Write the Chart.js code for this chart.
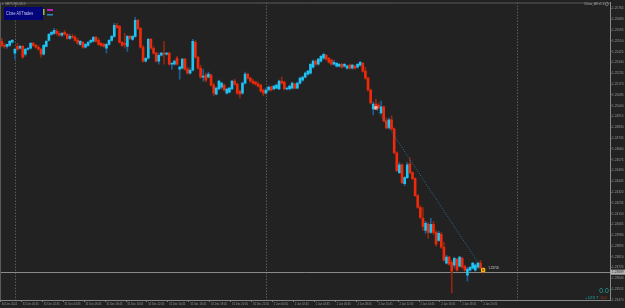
<!DOCTYPE html>
<html><head><meta charset="utf-8">
<script src="https://cdn.jsdelivr.net/npm/chart.js@4.4.1/dist/chart.umd.min.js"></script>
<style>html,body{margin:0;padding:0;background:#232323;overflow:hidden}canvas{display:block}</style>
</head><body>
<canvas id="c" width="625" height="308"></canvas>
<script>
// ---------- DATA ----------
const symbolLabel = 'GBPUSD,M15';
const indicatorLabel = 'Close_All v1.1';
const xTickLabels = ['30 Dec 2024','31 Dec 00:45','31 Dec 02:45','31 Dec 04:45','31 Dec 06:45','31 Dec 08:45','31 Dec 10:45','31 Dec 12:45','31 Dec 14:45','31 Dec 16:45','31 Dec 18:45','31 Dec 20:45','31 Dec 22:45','2 Jan 00:45','2 Jan 02:45','2 Jan 04:45','2 Jan 06:45','2 Jan 08:45','2 Jan 10:45','2 Jan 12:45','2 Jan 14:45','2 Jan 16:45','2 Jan 18:45','2 Jan 20:45'];
const yTickValues = [1.23470,1.23555,1.23640,1.23725,1.23810,1.23895,1.23980,1.24065,1.24150,1.24235,1.24320,1.24405,1.24490,1.24575,1.24660,1.24745,1.24830,1.24915,1.25000,1.25085,1.25170,1.25255,1.25340,1.25425,1.25510,1.25595,1.25680,1.25765];

const openP = [
1.25507,1.25475,1.25467,1.25475,1.25499,1.25413,1.25467,1.25452,1.25467,1.25405,
1.25444,1.25452,1.25491,1.25475,1.25460,1.25444,1.25405,1.25467,1.25514,1.25561,
1.25569,1.25585,1.25569,1.25554,1.25577,1.25561,1.25530,1.25546,1.25538,1.25514,
1.25483,1.25499,1.25460,1.25475,1.25499,1.25507,1.25538,1.25514,1.25491,1.25483,
1.25452,1.25483,1.25514,1.25546,1.25632,1.25624,1.25499,1.25491,1.25467,1.25546,
1.25522,1.25546,1.25671,1.25608,1.25460,1.25350,1.25373,1.25522,1.25452,1.25413,
1.25350,1.25397,1.25413,1.25405,1.25413,1.25326,1.25326,1.25373,1.25287,1.25295,
1.25366,1.25287,1.25256,1.25279,1.25499,1.25381,1.25295,1.25225,1.25240,1.25225,
1.25240,1.25162,1.25091,1.25131,1.25146,1.25162,1.25099,1.25107,1.25131,1.25193,
1.25170,1.25115,1.25099,1.25178,1.25248,1.25217,1.25193,1.25185,1.25170,1.25162,
1.25123,1.25099,1.25123,1.25146,1.25131,1.25138,1.25131,1.25193,1.25185,1.25131,
1.25131,1.25138,1.25170,1.25138,1.25178,1.25201,1.25225,1.25248,1.25256,1.25303,
1.25350,1.25326,1.25350,1.25373,1.25397,1.25373,1.25358,1.25326,1.25311,1.25311,
1.25326,1.25311,1.25295,1.25319,1.25295,1.25311,1.25303,1.25319,1.25334,1.25272,
1.25217,1.25123,1.24974,1.25013,1.25005,1.24943,1.24990,1.24880,1.24825,1.24888,
1.24817,1.24629,1.24473,1.24535,1.24386,1.24433,1.24543,1.24473,1.24426,1.24292,
1.24198,1.24112,1.24018,1.24065,1.24003,1.24065,1.24003,1.23940,1.23987,1.23885,
1.23760,1.23807,1.23767,1.23744,1.23791,1.23736,1.23799,1.23736,1.23666,1.23705,
1.23721,1.23705,1.23728,1.23760,1.23721];
const highP = [
1.25530,1.25491,1.25483,1.25514,1.25522,1.25452,1.25491,1.25475,1.25475,1.25452,
1.25460,1.25499,1.25499,1.25483,1.25475,1.25452,1.25483,1.25514,1.25569,1.25585,
1.25608,1.25601,1.25585,1.25577,1.25593,1.25569,1.25561,1.25561,1.25554,1.25530,
1.25514,1.25507,1.25491,1.25507,1.25522,1.25546,1.25546,1.25530,1.25499,1.25491,
1.25491,1.25522,1.25554,1.25648,1.25648,1.25632,1.25507,1.25569,1.25554,1.25554,
1.25554,1.25695,1.25679,1.25616,1.25475,1.25381,1.25530,1.25530,1.25467,1.25420,
1.25413,1.25420,1.25507,1.25420,1.25420,1.25342,1.25358,1.25389,1.25311,1.25373,
1.25373,1.25303,1.25295,1.25522,1.25514,1.25389,1.25319,1.25287,1.25256,1.25264,
1.25248,1.25178,1.25146,1.25201,1.25185,1.25170,1.25138,1.25146,1.25201,1.25209,
1.25178,1.25123,1.25185,1.25264,1.25256,1.25225,1.25209,1.25193,1.25185,1.25170,
1.25131,1.25138,1.25154,1.25154,1.25162,1.25170,1.25201,1.25225,1.25193,1.25146,
1.25162,1.25185,1.25178,1.25185,1.25225,1.25232,1.25264,1.25279,1.25334,1.25358,
1.25358,1.25373,1.25397,1.25413,1.25405,1.25381,1.25366,1.25358,1.25342,1.25334,
1.25334,1.25334,1.25319,1.25326,1.25326,1.25319,1.25334,1.25350,1.25342,1.25303,
1.25225,1.25131,1.25029,1.25052,1.25021,1.25037,1.24997,1.24903,1.24903,1.24919,
1.24825,1.24637,1.24551,1.24543,1.24441,1.24551,1.24590,1.24480,1.24433,1.24300,
1.24214,1.24198,1.24089,1.24081,1.24112,1.24089,1.24018,1.24010,1.24003,1.23924,
1.23822,1.23814,1.23783,1.23807,1.23799,1.23814,1.23807,1.23744,1.23728,1.23736,
1.23767,1.23752,1.23767,1.23783,1.23728];
const lowP = [
1.25460,1.25452,1.25452,1.25467,1.25491,1.25366,1.25436,1.25444,1.25373,1.25389,
1.25436,1.25444,1.25467,1.25452,1.25436,1.25381,1.25397,1.25460,1.25507,1.25554,
1.25561,1.25554,1.25546,1.25546,1.25554,1.25522,1.25522,1.25530,1.25507,1.25483,
1.25475,1.25452,1.25452,1.25467,1.25491,1.25499,1.25499,1.25475,1.25467,1.25460,
1.25413,1.25475,1.25507,1.25538,1.25608,1.25491,1.25467,1.25452,1.25428,1.25522,
1.25514,1.25538,1.25601,1.25452,1.25342,1.25342,1.25366,1.25444,1.25405,1.25342,
1.25326,1.25389,1.25326,1.25397,1.25319,1.25287,1.25319,1.25319,1.25209,1.25287,
1.25279,1.25248,1.25248,1.25272,1.25373,1.25287,1.25217,1.25193,1.25185,1.25217,
1.25154,1.25076,1.25084,1.25123,1.25131,1.25115,1.25091,1.25099,1.25123,1.25162,
1.25091,1.25060,1.25091,1.25170,1.25209,1.25185,1.25170,1.25162,1.25146,1.25107,
1.25076,1.25091,1.25115,1.25115,1.25123,1.25131,1.25123,1.25170,1.25123,1.25123,
1.25123,1.25131,1.25131,1.25131,1.25170,1.25193,1.25217,1.25240,1.25248,1.25295,
1.25319,1.25319,1.25342,1.25366,1.25358,1.25334,1.25319,1.25319,1.25303,1.25303,
1.25295,1.25303,1.25287,1.25287,1.25287,1.25287,1.25295,1.25311,1.25264,1.25209,
1.25115,1.25013,1.24927,1.24974,1.24974,1.24935,1.24872,1.24817,1.24817,1.24809,
1.24621,1.24480,1.24465,1.24386,1.24371,1.24426,1.24465,1.24418,1.24285,1.24191,
1.24112,1.24018,1.23995,1.23956,1.23995,1.23987,1.23893,1.23932,1.23877,1.23775,
1.23752,1.23744,1.23525,1.23721,1.23697,1.23728,1.23721,1.23697,1.23619,1.23697,
1.23713,1.23697,1.23721,1.23713,1.23681];
const closeP = [
1.25475,1.25467,1.25483,1.25507,1.25514,1.25444,1.25444,1.25467,1.25381,1.25444,
1.25452,1.25491,1.25475,1.25460,1.25444,1.25405,1.25475,1.25507,1.25561,1.25577,
1.25593,1.25569,1.25554,1.25569,1.25561,1.25530,1.25546,1.25538,1.25514,1.25491,
1.25507,1.25460,1.25483,1.25499,1.25514,1.25538,1.25507,1.25483,1.25475,1.25467,
1.25483,1.25514,1.25546,1.25632,1.25616,1.25499,1.25475,1.25483,1.25546,1.25530,
1.25546,1.25671,1.25608,1.25460,1.25350,1.25373,1.25522,1.25452,1.25413,1.25350,
1.25397,1.25413,1.25405,1.25413,1.25326,1.25334,1.25350,1.25326,1.25303,1.25366,
1.25287,1.25256,1.25279,1.25507,1.25381,1.25295,1.25225,1.25232,1.25201,1.25248,
1.25162,1.25099,1.25138,1.25193,1.25178,1.25123,1.25131,1.25138,1.25193,1.25170,
1.25099,1.25091,1.25178,1.25248,1.25217,1.25193,1.25178,1.25170,1.25154,1.25115,
1.25099,1.25123,1.25146,1.25123,1.25154,1.25162,1.25193,1.25178,1.25131,1.25138,
1.25154,1.25178,1.25138,1.25178,1.25217,1.25225,1.25256,1.25272,1.25326,1.25350,
1.25326,1.25366,1.25389,1.25405,1.25366,1.25342,1.25326,1.25342,1.25334,1.25326,
1.25303,1.25326,1.25311,1.25295,1.25319,1.25295,1.25326,1.25342,1.25272,1.25217,
1.25123,1.25021,1.25013,1.24982,1.24982,1.24990,1.24880,1.24825,1.24888,1.24817,
1.24629,1.24488,1.24535,1.24394,1.24433,1.24535,1.24473,1.24426,1.24292,1.24198,
1.24120,1.24050,1.24073,1.24003,1.24065,1.24003,1.23909,1.23995,1.23885,1.23783,
1.23807,1.23752,1.23697,1.23799,1.23705,1.23807,1.23728,1.23705,1.23713,1.23728,
1.23760,1.23744,1.23760,1.23721,1.23689];

const tradeOpenIndex = 143, tradeOpenPrice = 1.24982;
const tradeCloseIndex = 184, tradeClosePrice = 1.23705;
const daySeparatorIndex = [5, 101, 197];
const slotCount = 233;           // candles + empty chart shift
const candlesPerTimeLabel = 8;
const profitText = '0.0', tradesText = '+129 T', lossText = '0.0';

// ---------- BUILD ----------
const BG = '#222222';
const FONT = '"Liberation Sans", Arial, sans-serif';
const labels = new Array(slotCount).fill('');
xTickLabels.forEach((t, k) => { labels[k * candlesPerTimeLabel] = t; });

const isUp = openP.map((o, i) => closeP[i] >= o);
const bodyData = openP.map((o, i) => [o, closeP[i]]);
const wickData = lowP.map((l, i) => [l, highP[i]]);
const tradeLine = new Array(slotCount).fill(null);
tradeLine[tradeOpenIndex] = tradeOpenPrice;
tradeLine[tradeCloseIndex] = tradeClosePrice;
const openMark = new Array(slotCount).fill(null); openMark[tradeOpenIndex] = tradeOpenPrice;
const closeMark = new Array(slotCount).fill(null); closeMark[tradeCloseIndex] = tradeClosePrice;
const lastClose = closeP[closeP.length - 1];

function txt(ctx, s, x, y, size, color, align, base, bold) {
  ctx.font = (bold ? 'bold ' : '') + size + 'px ' + FONT;
  ctx.fillStyle = color; ctx.textAlign = align || 'left'; ctx.textBaseline = base || 'middle';
  ctx.fillText(s, x, y);
}

const decor = {
  id: 'decor',
  beforeDraw(chart) {
    const c = chart.ctx; c.save(); c.fillStyle = BG; c.fillRect(0, 0, chart.width, chart.height); c.restore();
  },
  beforeDatasetsDraw(chart) {
    const c = chart.ctx, a = chart.chartArea, x = chart.scales.x, y = chart.scales.y;
    c.save();
    c.lineWidth = 1;
    c.strokeStyle = '#5c5c5c'; c.setLineDash([1.5, 1.5]);
    daySeparatorIndex.forEach(i => {
      const px = Math.round(x.getPixelForValue(i)) + 0.5;
      c.beginPath(); c.moveTo(px, a.top); c.lineTo(px, a.bottom); c.stroke();
    });
    c.setLineDash([]);
    const by = Math.round(y.getPixelForValue(lastClose)) + 0.5;
    c.strokeStyle = '#8a8a8a';
    c.beginPath(); c.moveTo(a.left, by); c.lineTo(a.right, by); c.stroke();
    c.strokeStyle = '#5a5a5a';
    c.beginPath(); c.moveTo(0.5, a.top + 0.5); c.lineTo(a.right, a.top + 0.5); c.moveTo(0.5, a.top); c.lineTo(0.5, a.bottom); c.stroke();
    c.restore();
  },
  afterDraw(chart) {
    const c = chart.ctx, a = chart.chartArea, x = chart.scales.x, y = chart.scales.y;
    c.save();
    txt(c, '\u25BE ' + symbolLabel, 2, 4.5, 3.2, '#9a9a9a');
    c.fillStyle = '#03037a'; c.fillRect(4, 7, 39, 13);
    c.font = '4.6px ' + FONT;
    const w = c.measureText('Close All Trades').width;
    c.save(); c.translate(6, 14); c.scale(27 / w, 1);
    txt(c, 'Close All Trades', 0, 0, 4.6, '#c8c8f0');
    c.restore();
    c.fillStyle = '#9cc21e'; c.fillRect(43, 9, 1.5, 6);
    c.fillStyle = '#c21cc2'; c.fillRect(47, 9, 6, 2);
    c.fillStyle = '#2a86c8'; c.fillRect(47, 14, 6, 1.5);
    txt(c, indicatorLabel, 604.5, 4, 3.2, '#a0a0a0', 'right');
    c.strokeStyle = '#a0a0a0'; c.lineWidth = 0.6;
    c.beginPath(); c.arc(606.8, 4, 1.6, 0, Math.PI * 2); c.stroke();
    const by = y.getPixelForValue(lastClose);
    c.fillStyle = '#b4b4b4'; c.fillRect(610.5, by - 2.5, 14.5, 5);
    txt(c, lastClose.toFixed(5), 612, by + 0.2, 3.2, '#303030');
    txt(c, tradeClosePrice.toFixed(5), x.getPixelForValue(tradeCloseIndex) + 5, y.getPixelForValue(tradeClosePrice) - 1.5, 3, '#d0d0d0');
    txt(c, profitText, 608.7, 290.8, 6.8, '#23a8a0', 'right');
    txt(c, tradesText, 598.5, 297.6, 4.2, '#23a8a0', 'right');
    txt(c, lossText, 606.5, 297.6, 4.2, '#b8381c', 'right');
    c.restore();
  }
};

new Chart(document.getElementById('c'), {
  type: 'bar',
  data: {
    labels: labels,
    datasets: [
      { type: 'line', data: tradeLine, spanGaps: true, borderColor: '#2c7898', borderWidth: 1, borderDash: [1, 1.6], pointRadius: 0, order: 0 },
      { type: 'line', data: openMark, showLine: false, pointStyle: 'rect', pointRadius: 2, backgroundColor: '#e6dede', borderColor: '#ff8a8a', borderWidth: 0.8, order: 0 },
      { type: 'line', data: closeMark, showLine: false, pointStyle: 'rect', pointRadius: 2.3, backgroundColor: '#c85a00', borderColor: '#ffd200', borderWidth: 1, order: 0 },
      { data: bodyData, grouped: false, barThickness: 2, minBarLength: 1, backgroundColor: isUp.map(u => u ? '#1ec4f2' : '#ee2a0a'), borderWidth: 0, order: 1 },
      { data: wickData, grouped: false, barThickness: 1, backgroundColor: isUp.map(u => u ? '#1e5d92' : '#8e2810'), borderWidth: 0, order: 2 }
    ]
  },
  options: {
    responsive: false, animation: false, devicePixelRatio: 1,
    layout: { padding: { left: 0.5, top: 1, right: 0, bottom: 0 }, autoPadding: false },
    plugins: { legend: { display: false }, tooltip: { enabled: false } },
    scales: {
      x: {
        type: 'category', offset: true,
        afterFit: s => { s.height = 8; },
        border: { display: true, color: '#8a8a8a', width: 1 },
        grid: { drawOnChartArea: false, drawTicks: true, tickLength: 2, color: ctx => (ctx.tick && ctx.tick.label) ? '#7a7a7a' : 'rgba(0,0,0,0)' },
        ticks: { autoSkip: false, maxRotation: 0, minRotation: 0, align: 'start', padding: 0.6, color: '#949494', font: { size: 2.7, family: FONT }, callback: (v, i) => labels[i] }
      },
      y: {
        position: 'right', min: 1.23470, max: 1.25812,
        afterFit: s => { s.width = 15; },
        afterBuildTicks: s => { s.ticks = yTickValues.map(v => ({ value: v })); },
        border: { display: true, color: '#8a8a8a', width: 1 },
        grid: { drawOnChartArea: false, drawTicks: true, tickLength: 1.5, color: '#8a8a8a' },
        ticks: { padding: 0.6, color: '#9a9a9a', font: { size: 3.2, family: FONT }, callback: v => Number(v).toFixed(5) }
      }
    }
  },
  plugins: [decor]
});
</script>
</body></html>
